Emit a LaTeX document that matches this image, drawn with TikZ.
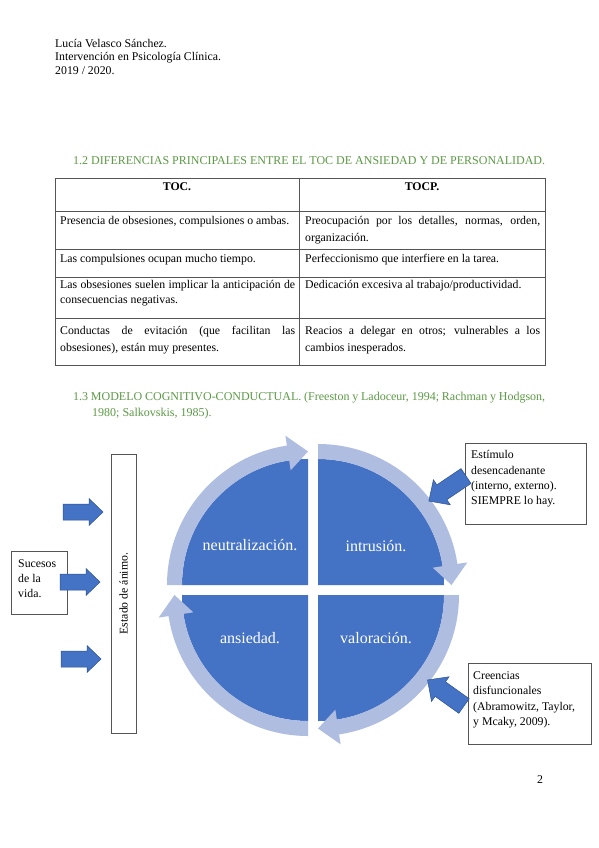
\documentclass[tikz,border=0pt]{standalone}
\usepackage{fontspec}
\setmainfont{Liberation Serif}
\usetikzlibrary{calc}
\definecolor{qblue}{HTML}{4472C4}
\definecolor{rblue}{HTML}{AEBDE0}
\definecolor{aedge}{HTML}{2F528F}
\definecolor{hgreen}{HTML}{5C9A45}
\definecolor{tline}{HTML}{555555}
\newcommand{\ringarrow}[3]{%
  \fill[rblue] ($(#1,#2)+(#3:141)$) arc[start angle=#3, delta angle=81.4, radius=141]
    -- ($(#1,#2)+(#3+81.4:151)$) -- ($(#1,#2)+(#3+90:133.5)$) -- ($(#1,#2)+(#3+81.4:116)$)
    -- ($(#1,#2)+(#3+81.4:126)$) arc[start angle=#3+81.4, delta angle=-81.4, radius=126] -- cycle;}
\newcommand{\quadpie}[3]{%
  \fill[qblue] (#1,#2) -- ++(#3:126) arc[start angle=#3, delta angle=90, radius=126] -- cycle;}
\begin{document}
\begin{tikzpicture}[x=1pt,y=-1pt,
  txt/.style={inner sep=0pt, anchor=base west, font=\fontsize{11.8}{14}\selectfont},
  ctxt/.style={inner sep=0pt, anchor=base, font=\fontsize{11.8}{14}\selectfont},
  gtxt/.style={txt, text=hgreen, font=\fontsize{12}{14}\selectfont},
  qtxt/.style={inner sep=0pt, text=white, font=\fontsize{16}{18}\selectfont},
  boxline/.style={draw=tline, line width=0.8pt},
  blockarrow/.pic={\fill[qblue, draw=aedge, line width=0.5pt] (0,-8) -- (26,-8) -- (26,-13.5) -- (40,0) -- (26,13.5) -- (26,8) -- (0,8) -- cycle;}
]
\useasboundingbox (0,0) rectangle (599,848);
\fill[white] (0,0) rectangle (599,848);
% header
\node[txt] (h1) at (55,47.5) {Lucía Velasco Sánchez.};
\node[txt] (h2) at (55,61) {Intervención en Psicología Clínica.};
\node[txt] (h3) at (55,74.5) {2019 / 2020.};
% heading 1.2
\node[gtxt] (s12) at (73,164) {\makebox[472pt][s]{1.2 DIFERENCIAS PRINCIPALES ENTRE EL TOC DE ANSIEDAD Y DE PERSONALIDAD.}};
% table
\draw[boxline] (55,178) rectangle (545,365);
\draw[boxline] (299,178) -- (299,365);
\foreach \yy in {211,249,277,318} \draw[boxline] (55,\yy) -- (545,\yy);
\node[ctxt] (t00) at (177,190) {\bfseries TOC.};
\node[ctxt] (t01) at (422,190) {\bfseries TOCP.};
\node[txt] (t10) at (60,224) {Presencia de obsesiones, compulsiones o ambas.};
\node[txt] (t11a) at (305,224) {\makebox[235pt][s]{Preocupación por los detalles, normas, orden,}};
\node[txt] (t11b) at (305,241) {organización.};
\node[txt] (t20) at (60,262) {Las compulsiones ocupan mucho tiempo.};
\node[txt] (t21) at (305,262) {Perfeccionismo que interfiere en la tarea.};
\node[txt] (t30a) at (60,288) {\makebox[235pt][s]{Las obsesiones suelen implicar la anticipación de}};
\node[txt] (t30b) at (60,303) {consecuencias negativas.};
\node[txt] (t31) at (305,288) {Dedicación excesiva al trabajo/productividad.};
\node[txt] (t40a) at (60,334) {\makebox[235pt][s]{Conductas de evitación (que facilitan las}};
\node[txt] (t40b) at (60,351) {obsesiones), están muy presentes.};
\node[txt] (t41a) at (305,334) {\makebox[235pt][s]{Reacios a delegar en otros; vulnerables a los}};
\node[txt] (t41b) at (305,351) {cambios inesperados.};
% heading 1.3
\node[gtxt] (s13a) at (73,400) {\makebox[472pt][s]{1.3 MODELO COGNITIVO-CONDUCTUAL. (Freeston y Ladoceur, 1994; Rachman y Hodgson,}};
\node[gtxt] (s13b) at (92,416) {1980; Salkovskis, 1985).};
% cycle quadrants
\quadpie{308}{585}{180}
\quadpie{318}{585}{270}
\quadpie{318}{595}{0}
\quadpie{308}{595}{90}
\ringarrow{308}{585}{180}
\ringarrow{318}{585}{270}
\ringarrow{318}{595}{0}
\ringarrow{308}{595}{90}
\node[qtxt] (neut) at (250,545) {neutralización.};
\node[qtxt] (intr) at (376,546) {intrusión.};
\node[qtxt] (ansi) at (250,638) {ansiedad.};
\node[qtxt] (valo) at (376,638) {valoración.};
% estado de animo
\node[boxline, fill=white, minimum width=25, minimum height=279, inner sep=0pt] (estado) at (123.5,593.5) {};
\node[rotate=90, inner sep=0pt, font=\fontsize{11.8}{14}\selectfont] (estadotxt) at (estado.center) {Estado de ánimo.};
% sucesos
\node[boxline, fill=white, minimum width=56, minimum height=63, inner sep=0pt] (suc) at (39,582.5) {};
\node[txt] (suc1) at (18,567) {Sucesos};
\node[txt] (suc2) at (18,582) {de la};
\node[txt] (suc3) at (18,597) {vida.};
% left arrows
\pic at (63,512) {blockarrow};
\pic at (60,582) {blockarrow};
\pic at (61,659) {blockarrow};
% estimulo box
\node[boxline, fill=white, minimum width=121, minimum height=81, inner sep=0pt] (estim) at (525.5,483.5) {};
\node[txt] (e1) at (471,458) {Estímulo};
\node[txt] (e2) at (471,474) {desencadenante};
\node[txt] (e3) at (471,489) {(interno, externo).};
\node[txt] (e4) at (471,504) {SIEMPRE lo hay.};
\pic[rotate=214, scale=1.12] at (466,476) {blockarrow};
% creencias box
\node[boxline, fill=white, minimum width=123, minimum height=81, inner sep=0pt] (cree) at (529.5,703.5) {};
\node[txt] (c1) at (473,679) {Creencias};
\node[txt] (c2) at (473,694) {disfuncionales};
\node[txt] (c3) at (473,710) {(Abramowitz, Taylor,};
\node[txt] (c4) at (473,725) {y Mcaky, 2009).};
\pic[rotate=144.5, scale=1.12] at (464,706) {blockarrow};
% page number
\node[ctxt] (pg) at (540,783) {2};
\end{tikzpicture}
\end{document}
